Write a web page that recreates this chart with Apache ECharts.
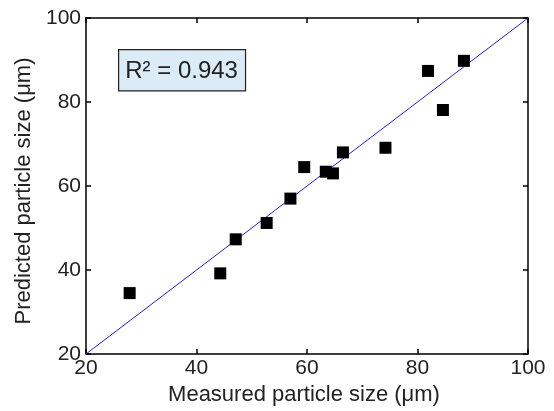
<!DOCTYPE html>
<html>
<head>
<meta charset="utf-8">
<script src="https://cdn.jsdelivr.net/npm/echarts@6/dist/echarts.min.js"></script>
<style>
  html, body { margin: 0; padding: 0; background: #fff; }
  #chart { width: 554px; height: 411px; }
</style>
</head>
<body>
<div id="chart"></div>
<script>
// Measured vs predicted particle size (µm)
const measured  = [27.9, 44.3, 47.1, 52.7, 57.0, 59.5, 63.4, 64.7, 66.5, 74.2, 81.9, 84.6, 88.4];
const predicted = [34.5, 39.2, 47.3, 51.2, 57.0, 64.5, 63.4, 63.0, 68.0, 69.1, 87.4, 78.1, 89.8];
// 1:1 reference line
const idealX = [20, 100];
const idealY = [20, 100];
const axisTicks = [20, 40, 60, 80, 100];
const r2Text = 'R\u00B2 = 0.943';

const font = 'Liberation Sans, Arial, sans-serif';
const points = measured.map((m, i) => [m, predicted[i]]);
const ideal = idealX.map((x, i) => [x, idealY[i]]);

const baseAxis = {
  min: axisTicks[0],
  max: axisTicks[axisTicks.length - 1],
  interval: axisTicks[1] - axisTicks[0],
  splitLine: { show: false },
  axisLine: { show: true, onZero: false, lineStyle: { color: '#000', width: 1.5 } },
  axisTick: { show: true, inside: true, length: 5, lineStyle: { color: '#000', width: 1.5 } }
};

const chart = echarts.init(document.getElementById('chart'));
chart.setOption({
  backgroundColor: '#fff',
  animation: false,
  grid: { left: 86, right: 26, top: 18, bottom: 56, containLabel: false },
  xAxis: [
    Object.assign({}, baseAxis, {
      type: 'value', position: 'bottom',
      name: 'Measured particle size (\u03BCm)',
      nameLocation: 'middle', nameGap: 30,
      nameTextStyle: { fontFamily: font, fontSize: 22, color: '#222', padding: [0, 6, 0, 0] },
      axisLabel: { fontFamily: font, fontSize: 21, color: '#222', margin: 4 }
    }),
    Object.assign({}, baseAxis, {
      type: 'value', position: 'top',
      axisLabel: { show: false }
    })
  ],
  yAxis: [
    Object.assign({}, baseAxis, {
      type: 'value', position: 'left',
      name: 'Predicted particle size (\u03BCm)',
      nameLocation: 'middle', nameGap: 47,
      nameTextStyle: { fontFamily: font, fontSize: 22, color: '#222', padding: [0, 10, 0, 0] },
      axisLabel: { fontFamily: font, fontSize: 21, color: '#222', margin: 5 }
    }),
    Object.assign({}, baseAxis, {
      type: 'value', position: 'right',
      axisLabel: { show: false }
    })
  ],
  graphic: [{
    type: 'text',
    left: 118, top: 49,
    style: {
      text: r2Text,
      fontFamily: font, fontSize: 24, fill: '#222',
      backgroundColor: '#dcecf6',
      borderColor: '#222', borderWidth: 1.2,
      padding: [9, 7, 7, 6]
    },
    z: 10
  }],
  series: [
    {
      type: 'line',
      data: ideal,
      showSymbol: false,
      symbol: 'none',
      lineStyle: { color: '#2020e0', width: 1 },
      z: 2
    },
    {
      type: 'scatter',
      data: points,
      symbol: 'rect',
      symbolSize: 12,
      itemStyle: { color: '#000', opacity: 1 },
      z: 3
    }
  ]
});
</script>
</body>
</html>
